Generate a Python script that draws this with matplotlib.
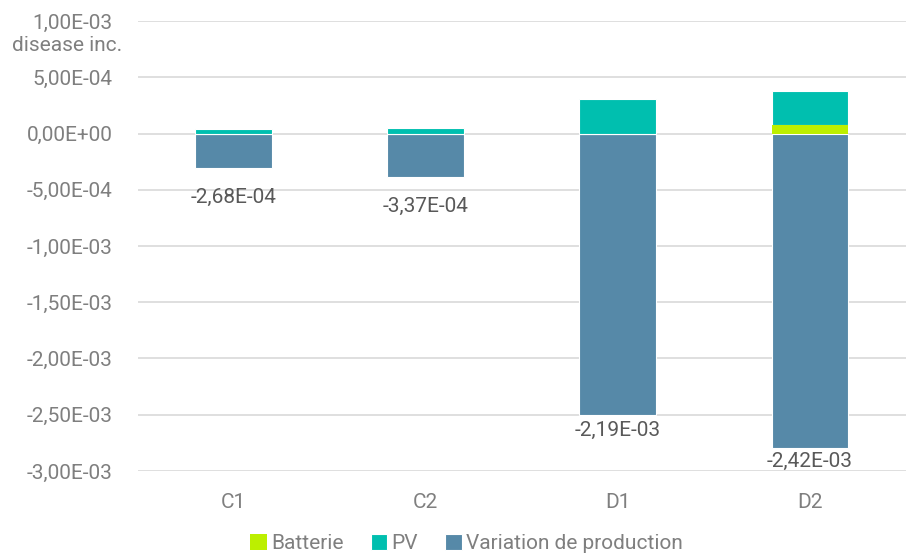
import matplotlib
matplotlib.use("Agg")
import matplotlib.pyplot as plt
import numpy as np

categories = ["C1", "C2", "D1", "D2"]
batterie = [0.0, 0.0, 0.0, 0.8e-4]
pv = [0.40e-4, 0.48e-4, 3.10e-4, 3.00e-4]
variation = [-3.08e-4, -3.85e-4, -2.50e-3, -2.80e-3]
total_labels = ["-2,68E-04", "-3,37E-04", "-2,19E-03", "-2,42E-03"]
yticks = [1e-3, 5e-4, 0, -5e-4, -1e-3, -1.5e-3, -2e-3, -2.5e-3, -3e-3]
ytick_labels = ["1,00E-03", "5,00E-04", "0,00E+00", "-5,00E-04", "-1,00E-03",
                "-1,50E-03", "-2,00E-03", "-2,50E-03", "-3,00E-03"]

plt.rcParams['font.family'] = ['Roboto', 'DejaVu Sans']

c_bat = "#BCEF00"
c_pv = "#00BFAF"
c_var = "#5689A8"
grey = "#7F7F7F"
dark = "#595959"
fs = 15

fig = plt.figure(figsize=(9.06, 5.56), dpi=100)
ax = fig.add_axes([0.152, 0.153, 0.848, 0.809])

x = np.arange(len(categories))
w = 0.4
ax.bar(x, variation, w, color=c_var, edgecolor="white", linewidth=0.8, zorder=3, label="Variation de production")
ax.bar(x, pv, w, bottom=batterie, color=c_pv, edgecolor="white", linewidth=0.8, zorder=3, label="PV")
ax.bar(x, batterie, w, color=c_bat, edgecolor="none", linewidth=0, zorder=3, label="Batterie")

offsets = [-29, -30, -16, -13]
for xi, v, lab, off in zip(x, variation, total_labels, offsets):
    ax.annotate(lab, (xi, v), xytext=(0, off), textcoords="offset pixels",
                ha="center", va="center", fontsize=fs, color=dark)

ax.set_ylim(-3e-3, 1e-3)
ax.set_xlim(-0.5, 3.5)
ax.set_yticks(yticks)
ax.set_yticklabels(ytick_labels)
ax.set_xticks(x)
ax.set_xticklabels(categories)
ax.tick_params(axis="both", length=0, labelsize=fs, colors=grey)
ax.tick_params(axis="y", pad=18)
ax.tick_params(axis="x", pad=16)
ax.grid(axis="y", color="#D9D9D9", linewidth=1.2, zorder=0)
for s in ax.spines.values():
    s.set_visible(False)

fig.text(0.074, 0.918, "disease inc.", ha="center", va="center", fontsize=fs, color=grey)

handles, labels = ax.get_legend_handles_labels()
order = [2, 1, 0]
leg = fig.legend([handles[i] for i in order], [labels[i] for i in order],
                 loc="center", bbox_to_anchor=(0.515, 0.022), ncol=3, frameon=False,
                 fontsize=fs, handlelength=0.8, handleheight=0.8, handletextpad=0.2,
                 columnspacing=1.3, labelcolor=grey)

fig.savefig("out.png", dpi=100)
